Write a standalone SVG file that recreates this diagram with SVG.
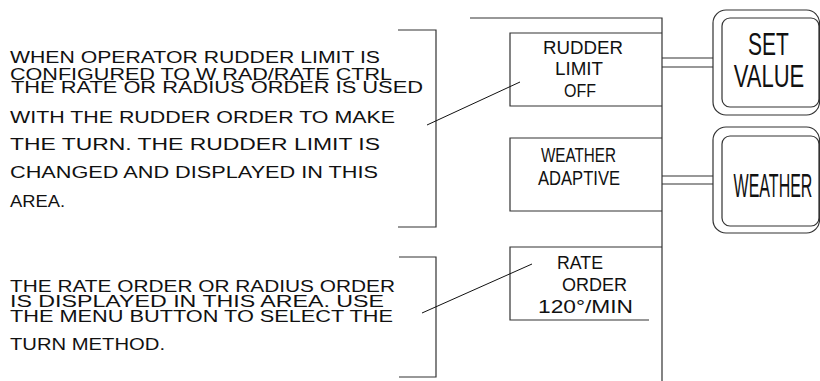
<svg xmlns="http://www.w3.org/2000/svg" width="820" height="381" viewBox="0 0 820 381">
<style>
.ln{fill:none;stroke:#333;stroke-width:1.2}
.ld{fill:none;stroke:#111;stroke-width:1}
.t{font-family:"Liberation Sans",Arial,sans-serif;fill:#111;font-size:16px}
.b{font-family:"Liberation Sans",Arial,sans-serif;fill:#111;text-anchor:middle}
</style>
<rect width="820" height="381" fill="#fff"/>
<g id="note1">
<text class="t" x="10" y="63" textLength="370" lengthAdjust="spacingAndGlyphs">WHEN OPERATOR RUDDER LIMIT IS</text>
<text class="t" x="10" y="80" textLength="382" lengthAdjust="spacingAndGlyphs">CONFIGURED TO W RAD/RATE CTRL</text>
<text class="t" x="11" y="93" textLength="412" lengthAdjust="spacingAndGlyphs">THE RATE OR RADIUS ORDER IS USED</text>
<text class="t" x="10" y="123" textLength="385" lengthAdjust="spacingAndGlyphs">WITH THE RUDDER ORDER TO MAKE</text>
<text class="t" x="10" y="150" textLength="370" lengthAdjust="spacingAndGlyphs">THE TURN.  THE RUDDER LIMIT IS</text>
<text class="t" x="10" y="178" textLength="368" lengthAdjust="spacingAndGlyphs">CHANGED AND DISPLAYED IN THIS</text>
<text class="t" x="10" y="207" textLength="55" lengthAdjust="spacingAndGlyphs">AREA.</text>
<path class="ln" d="M398 30H436V227H398"/>
</g>
<g id="note2">
<text class="t" x="10" y="292" textLength="385" lengthAdjust="spacingAndGlyphs">THE RATE ORDER OR RADIUS ORDER</text>
<text class="t" x="10" y="307" textLength="374" lengthAdjust="spacingAndGlyphs">IS DISPLAYED IN THIS AREA.  USE</text>
<text class="t" x="10" y="322" textLength="383" lengthAdjust="spacingAndGlyphs">THE MENU BUTTON TO SELECT THE</text>
<text class="t" x="10" y="350" textLength="155" lengthAdjust="spacingAndGlyphs">TURN METHOD.</text>
<path class="ln" d="M399 257H436V377H399"/>
</g>
<g id="panel">
<path class="ln" d="M470 18H662V381"/>
</g>
<g id="box-rudder">
<path class="ln" d="M662 33H510V106H662"/>
<text class="b" x="583" y="54" font-size="17.5" textLength="80" lengthAdjust="spacingAndGlyphs">RUDDER</text>
<text class="b" x="579" y="75" font-size="17.5" textLength="48" lengthAdjust="spacingAndGlyphs">LIMIT</text>
<text class="b" x="580" y="97" font-size="17.5" textLength="32" lengthAdjust="spacingAndGlyphs">OFF</text>
</g>
<g id="box-weather">
<path class="ln" d="M662 138H510V211H662"/>
<text class="b" x="578.5" y="162" font-size="20" textLength="75" lengthAdjust="spacingAndGlyphs">WEATHER</text>
<text class="b" x="579" y="185" font-size="20" textLength="82" lengthAdjust="spacingAndGlyphs">ADAPTIVE</text>
</g>
<g id="box-rate">
<path class="ln" d="M662 247H510V320H649"/>
<text class="b" x="580" y="269" font-size="19" textLength="46" lengthAdjust="spacingAndGlyphs">RATE</text>
<text class="b" x="594.5" y="291" font-size="19" textLength="65" lengthAdjust="spacingAndGlyphs">ORDER</text>
<text class="b" x="585.5" y="313" font-size="19" textLength="95" lengthAdjust="spacingAndGlyphs">120°/MIN</text>
</g>
<g id="btn-set-value">
<rect class="ln" x="713" y="10" width="106.5" height="105" rx="13"/>
<rect class="ln" x="722" y="18" width="97" height="89" rx="8"/>
<text class="b" transform="translate(768.5 55) scale(1 1.46)" font-size="21">SET</text>
<text class="b" transform="translate(769 87) scale(1 1.40)" font-size="22">VALUE</text>
</g>
<g id="btn-weather">
<rect class="ln" x="713" y="127" width="106.5" height="106" rx="13"/>
<rect class="ln" x="722" y="136" width="97" height="90" rx="8"/>
<text class="b" transform="translate(773 197) scale(1 2.09)" font-size="16">WEATHER</text>
</g>
<g id="connectors">
<path class="ln" d="M662 58H713M662 67H713"/>
<path class="ln" d="M662 176H713M662 184H713"/>
<path class="ld" d="M427 125L520 82"/>
<path class="ld" d="M422 313L532 264"/>
</g>
</svg>
